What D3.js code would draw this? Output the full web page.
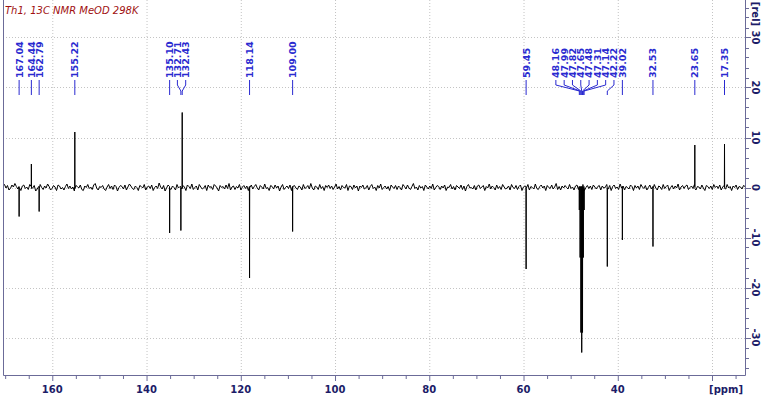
<!DOCTYPE html>
<html>
<head>
<meta charset="utf-8">
<script src="https://cdn.jsdelivr.net/npm/d3@7"></script>
<style>
  body { margin: 0; background: #fff; }
  svg { display: block; }
</style>
</head>
<body>
<svg id="nmr"></svg>
<script>
// --- data ---
const title = 'Th1, 13C NMR MeOD 298K'
const peakPpm = [167.04, 164.44, 162.79, 155.22, 135.10, 132.71, 132.43, 118.14, 109.00, 59.45,
  48.16, 47.99, 47.82, 47.65, 47.48, 47.31, 47.14, 42.22, 39.02, 32.53, 23.65, 17.35]
const peakInt = [-5.8, 4.7, -4.8, 11.1, -9.1, -8.6, 15.0, -18.1, -8.8, -16.3,
  -4.5, -14, -29, -33, -29, -14, -4.5, -15.8, -10.5, -11.8, 8.5, 8.7]
const xTicks = [160, 140, 120, 100, 80, 60, 40, 20]
const xLabels = [160, 140, 120, 100, 80, 60, 40]
const yTicks = [30, 20, 10, 0, -10, -20, -30]
// baseline noise, left to right
const noise = [
  0.3,0.6,-0.1,0.4,-0.5,-0.2,0.5,0.1,0.8,0.2,-0.3,0.0,-0.6,0.3,0.5,-0.2,0.1,-0.4,0.6,0.2,
  -0.1,0.4,-0.7,-0.3,0.2,0.6,0.0,-0.4,0.3,-0.1,0.7,0.2,-0.5,-0.2,0.4,0.1,-0.6,0.5,0.3,-0.3,
  0.0,-0.5,0.2,0.7,-0.2,0.3,-0.3,0.1,-0.7,0.4,0.2,-0.1,0.5,-0.4,-0.6,0.3,0.0,0.6,-0.2,0.1,
  -0.4,0.5,0.8,-0.1,-0.5,0.2,0.0,0.4,-0.3,-0.6,0.1,0.6,-0.2,0.3,-0.4,0.5,0.2,-0.7,0.0,0.4,
  0.2,-0.3,0.5,-0.5,0.1,0.7,0.3,-0.2,-0.4,0.3,0.0,-0.6,0.4,0.2,-0.1,0.6,-0.5,0.1,0.3,-0.2,
  0.5,-0.6,0.0,0.3,-0.2,0.9,0.1,-0.3,0.4,-0.7,-0.1,0.5,0.2,-0.4,0.3,0.0,-0.5,0.6,-0.1,0.2,
  -0.3,0.4,0.1,-0.6,0.5,0.2,-0.2,0.7,-0.4,0.0,0.3,-0.5,0.6,0.1,-0.3,-0.1,0.4,-0.6,0.5,0.0,
  0.2,-0.4,0.6,0.3,-0.1,-0.7,0.4,0.0,0.2,-0.3,0.5,-0.2,0.8,-0.5,0.1,0.3,-0.4,0.2,-0.1,0.6,
  -0.5,0.1,0.4,-0.2,0.3,-0.6,0.0,0.5,-0.3,0.2,0.6,-0.1,-0.5,0.4,0.1,-0.3,0.7,-0.2,0.0,-0.6,
  0.4,0.2,-0.3,0.5,-0.1,0.3,-0.7,0.1,0.6,-0.4,0.0,0.3,-0.2,0.5,-0.6,0.2,0.4,-0.1,-0.4,0.3,
  0.1,-0.5,0.6,-0.2,0.0,0.4,-0.3,0.8,-0.1,-0.5,0.3,0.1,-0.4,0.6,-0.2,0.2,-0.6,0.4,0.0,0.5,
  -0.2,0.3,-0.4,0.1,0.7,-0.3,0.2,-0.5,0.4,0.0,-0.1,0.6,-0.6,0.3,0.2,-0.4,0.5,-0.1,0.3,-0.7,
  0.3,0.0,0.5,-0.3,-0.1,0.4,-0.5,0.2,0.6,-0.2,0.1,-0.6,0.4,-0.1,0.7,-0.4,0.0,0.3,-0.3,0.2,
  -0.6,0.5,0.1,-0.2,0.4,-0.4,0.3,0.0,-0.5,0.6,0.2,-0.3,0.5,-0.1,-0.4,0.2,0.8,-0.2,0.1,-0.5,
  0.4,-0.1,0.2,-0.6,0.5,0.1,-0.3,0.3,-0.2,0.7,-0.5,0.0,0.4,0.2,-0.4,0.3,-0.1,0.5,-0.6,0.1,
  0.0,0.6,-0.3,0.2,-0.5,0.4,0.1,-0.2,0.5,-0.4,0.3,-0.7,0.2,0.6,-0.1,0.0,-0.3,0.4,-0.5,0.3,
  0.5,-0.2,0.1,0.4,-0.6,0.2,-0.1,0.7,-0.3,0.3,0.0,-0.5,0.5,-0.2,0.2,-0.4,0.6,0.1,-0.3,-0.1,
  0.3,-0.5,0.6,0.0,-0.2,0.4,-0.4,0.2,0.5,-0.6,0.1,0.3,-0.1,0.6,-0.5,0.2,0.0,-0.3,0.7,-0.2,
  -0.4,0.2,0.5,-0.1,0.3,-0.6,0.4,0.0,-0.2,0.5,-0.3,0.1,0.8,-0.4,0.2,-0.5,0.3,-0.1,0.4,0.0,
  -0.3,0.6,-0.2,0.1,-0.5,0.3,0.5,-0.4,0.2,-0.1,0.6,-0.6,0.0,0.4,-0.2,0.3,-0.4,0.5,0.1,-0.3,
  0.2,0.4,-0.5,0.3,-0.1,0.0,0.6,-0.3,0.4,-0.6,0.2,0.5,-0.2,0.1,-0.4,0.7,-0.1,0.3,-0.5,0.2,
  0.0,-0.3,0.5,0.2,-0.6,0.4,-0.1,0.3,-0.4,0.6,0.1,-0.2,0.4,-0.5,0.0,0.5,-0.3,0.2,0.6,-0.1,
  -0.5,0.3,0.1,-0.4,0.6,-0.2,0.2,0.5,-0.6,0.0,0.4,-0.3,0.3,-0.1,0.7,-0.5,0.1,0.4,-0.2,0.3,
  0.5,-0.4,0.0,0.3,-0.2,0.6,-0.5,0.2,0.1,-0.3,0.5,-0.1,-0.6,0.4,0.2,-0.2,0.3,-0.4,0.6,0.0,
  0.3,-0.2,0.5,-0.5,0.1,0.4,-0.3,0.6,-0.1,0.2,-0.6,0.3,0.0,0.5,-0.4,0.2,0.1,-0.3,0.4,0.2
]

const W = 767, H = 396
const svg = d3.select('#nmr').attr('width', W).attr('height', H)
  .style('font-family', '"DejaVu Sans", sans-serif')

const x = d3.scaleLinear().domain([170.46, 13.0]).range([3, 745])
const y = d3.scaleLinear().domain([-37.5, 37.5]).range([375, 0])
const axisCol = '#6b6b98', textCol = '#1c1c68', labelCol = '#2a2ad0'

// grid
const grid = svg.append('g').attr('stroke', '#c4c4c4').attr('stroke-dasharray', '1,2')
grid.selectAll('line.v').data(xTicks).enter().append('line')
  .attr('x1', d => x(d) + 0.5).attr('x2', d => x(d) + 0.5).attr('y1', 0).attr('y2', 375)
grid.selectAll('line.h').data(yTicks).enter().append('line')
  .attr('x1', 3).attr('x2', 745).attr('y1', d => Math.round(y(d)) + 0.5).attr('y2', d => Math.round(y(d)) + 0.5)

// spectrum: noise samples + peak spikes
const pts = noise.map((v, i) => [x.domain()[0] - i * (x.domain()[0] - x.domain()[1]) / (noise.length - 1), v])
peakPpm.forEach((p, i) => {
  pts.push([p + 0.03, 0.2], [p, peakInt[i]], [p - 0.03, -0.2])
})
pts.sort((a, b) => b[0] - a[0])
const line = d3.line().x(d => x(d[0])).y(d => y(d[1]))
svg.append('path').datum(pts).attr('d', line)
  .attr('fill', 'none').attr('stroke', '#000').attr('stroke-width', 1)

// peak labels: spread overlapping labels into centred groups
const gap = 8.3
let groups = peakPpm.map(p => ({ items: [{ ppm: p, px: x(p) }] }))
const place = g => { g.start = d3.mean(g.items, d => d.px) - (g.items.length - 1) * gap / 2 }
let merged = true
while (merged) {
  merged = false
  groups.forEach(place)
  for (let i = 0; i < groups.length - 1; i++) {
    const a = groups[i], b = groups[i + 1]
    if (a.start + (a.items.length - 1) * gap + gap * 0.9 > b.start) {
      a.items = a.items.concat(b.items)
      groups.splice(i + 1, 1)
      merged = true
      break
    }
  }
}
const labels = []
groups.forEach(g => { place(g); g.items.forEach((d, k) => labels.push({ ...d, lx: g.start + k * gap })) })

const lab = svg.append('g')
lab.selectAll('path').data(labels).enter().append('path')
  .attr('d', d => `M${d.lx},80 L${d.lx},85 L${d.px},91 L${d.px},95`)
  .attr('fill', 'none').attr('stroke', labelCol).attr('stroke-width', 1)
lab.selectAll('text').data(labels).enter().append('text')
  .attr('transform', d => `translate(${d.lx},78) rotate(-90)`)
  .attr('dy', '0.36em')
  .attr('fill', labelCol).attr('font-size', 9.5).attr('font-weight', 'bold')
  .text(d => d.ppm.toFixed(2))

// frame + axes
svg.append('path').attr('d', 'M3.5,0 L3.5,375.5 L745.5,375.5 L745.5,0')
  .attr('fill', 'none').attr('stroke', axisCol).attr('stroke-width', 1)

const bx = svg.append('g')
bx.selectAll('line').data(d3.range(170, 13, -5)).enter().append('line')
  .attr('x1', d => x(d) + 0.5).attr('x2', d => x(d) + 0.5)
  .attr('y1', 375).attr('y2', d => d % 20 === 0 ? 381 : 379)
  .attr('stroke', axisCol)
bx.selectAll('text').data(xLabels).enter().append('text')
  .attr('x', d => x(d)).attr('y', 393).attr('text-anchor', 'middle')
  .attr('fill', textCol).attr('font-size', 10).attr('font-weight', 'bold')
  .text(d => d)
svg.append('text').attr('x', 743).attr('y', 393).attr('text-anchor', 'end')
  .attr('fill', textCol).attr('font-size', 10).attr('font-weight', 'bold').text('[ppm]')

const ry = svg.append('g')
ry.selectAll('line').data(d3.range(-36, 37, 2)).enter().append('line')
  .attr('x1', 745).attr('x2', d => d % 10 === 0 ? 751 : 749)
  .attr('y1', d => Math.round(y(d)) + 0.5).attr('y2', d => Math.round(y(d)) + 0.5)
  .attr('stroke', axisCol)
ry.selectAll('text').data(yTicks).enter().append('text')
  .attr('transform', d => `translate(752,${y(d)}) rotate(90)`)
  .attr('text-anchor', 'middle')
  .attr('fill', textCol).attr('font-size', 10).attr('font-weight', 'bold')
  .text(d => d)
svg.append('text').attr('transform', 'translate(752,14) rotate(90)')
  .attr('text-anchor', 'middle')
  .attr('fill', textCol).attr('font-size', 10).attr('font-weight', 'bold').text('[rel]')

// title
svg.append('text').attr('x', 5).attr('y', 14)
  .attr('fill', '#a01010').attr('font-size', 10).attr('font-style', 'italic')
  .text(title)
</script>
</body>
</html>
